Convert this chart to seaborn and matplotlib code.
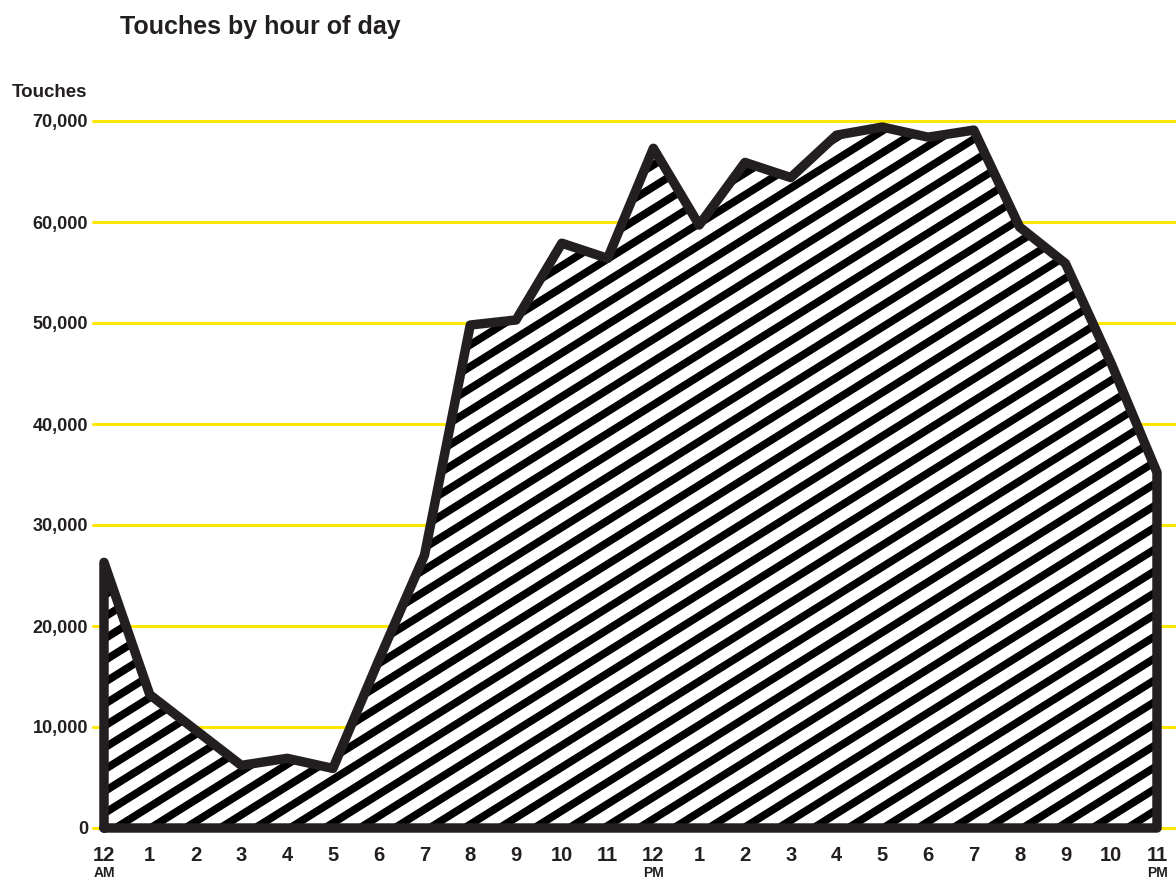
import numpy as np
import pandas as pd
import matplotlib
matplotlib.use("Agg")
import matplotlib.pyplot as plt
from matplotlib import font_manager
from matplotlib.collections import LineCollection
from matplotlib.transforms import IdentityTransform
import seaborn as sns

# data
hours = list(range(24))
hour_labels = ["12", "1", "2", "3", "4", "5", "6", "7", "8", "9", "10", "11",
               "12", "1", "2", "3", "4", "5", "6", "7", "8", "9", "10", "11"]
touches = [26300, 13200, 9700, 6200, 6900, 5900, 16600, 27000,
           49800, 50300, 57900, 56400, 67300, 59700, 65900, 64400,
           68600, 69400, 68400, 69100, 59500, 55900, 46000, 35200]
y_ticks = [0, 10000, 20000, 30000, 40000, 50000, 60000, 70000]

sns.set_theme(style="white")
names = {f.name for f in font_manager.fontManager.ttflist}
base_font = "Liberation Sans"
narrow_font = "Liberation Sans Narrow" if "Liberation Sans Narrow" in names else base_font
plt.rcParams["font.family"] = [base_font, "DejaVu Sans"]

INK = "#231f20"
YELLOW = "#ffe800"

W, H = 1176, 881
fig = plt.figure(figsize=(W / 100, H / 100), dpi=100)
fig.patch.set_facecolor("white")
ax = fig.add_axes([93 / W, (H - 828) / H, (W - 93) / W, (828 - 121) / H])
ax.set_facecolor("white")

px_per_hour = (1157 - 104) / 23
ax.set_xlim(-11 / px_per_hour, 23 + 19 / px_per_hour)
ax.set_ylim(0, 70000)

# yellow gridlines
for v in y_ticks:
    ax.axhline(v, color=YELLOW, lw=2.2, zorder=0, clip_on=False)

# white area + diagonal stripes clipped to it
poly = ax.fill_between(hours, touches, 0, color="white", lw=0, zorder=1)
ang = np.deg2rad(32)
slope = np.tan(ang)
vperiod = 21.8
segs = []
for c in np.arange(-slope * W - 200, H + 200, vperiod):
    segs.append([(-50, c - 50 * slope), (W + 50, c + (W + 50) * slope)])
lc = LineCollection(segs, colors="black", linewidths=5.6, transform=IdentityTransform(),
                    zorder=2, capstyle="butt")
ax.add_collection(lc, autolim=False)
lc.set_clip_path(poly.get_paths()[0], ax.transData)

# outline
outline = pd.DataFrame({
    "hour": [0] + hours + [23, 0],
    "touches": [0] + touches + [0, 0],
})
sns.lineplot(data=outline, x="hour", y="touches", sort=False, estimator=None,
             color=INK, lw=6.8, ax=ax, zorder=3, clip_on=False)
for l in ax.lines[-1:]:
    l.set_solid_joinstyle("round")
    l.set_solid_capstyle("round")

sns.despine(ax=ax, left=True, bottom=True)
ax.grid(False)
ax.set_xlabel("")
ax.set_ylabel("")

ax.set_yticks(y_ticks)
ax.set_yticklabels([f"{v:,}" for v in y_ticks], fontsize=13, fontweight="bold", color=INK)
ax.set_xticks(hours)
ax.set_xticklabels(hour_labels, fontsize=14.5, fontweight="bold", color=INK, family=narrow_font)
ax.tick_params(axis="y", length=0, pad=3.6)
ax.tick_params(axis="x", length=0, pad=13)

# AM / PM under the tick labels
for h, txt in [(0, "AM"), (12, "PM"), (23, "PM")]:
    ax.text(h, -4500, txt, ha="center", va="center", fontsize=10, fontweight="bold",
            color=INK, family=narrow_font, clip_on=False)

fig.text(12 / W, 1 - 97 / H, "Touches", ha="left", va="baseline",
         fontsize=13.5, fontweight="bold", color=INK)
fig.text(120 / W, 1 - 34 / H, "Touches by hour of day", ha="left", va="baseline",
         fontsize=18, fontweight="bold", color=INK)

fig.savefig("out.png", dpi=100, facecolor="white")
